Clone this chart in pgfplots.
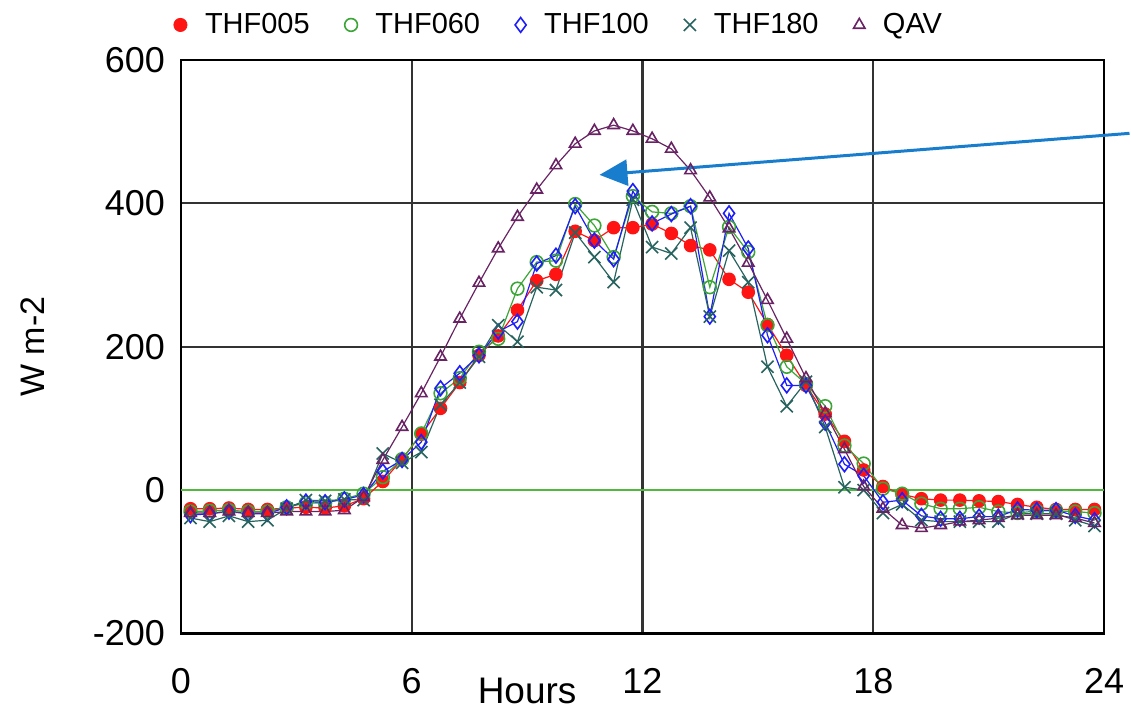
\documentclass[border=0pt]{standalone}
\usepackage{pgfplots}
\pgfplotsset{compat=1.18}
\usepackage{pgfplotstable}
\usepackage{fontspec}
\setmainfont{Liberation Sans}
\usetikzlibrary{arrows.meta}
\definecolor{cR}{RGB}{255,20,20}
\definecolor{cG}{RGB}{60,165,55}
\definecolor{cB}{RGB}{30,30,250}
\definecolor{cT}{RGB}{40,100,95}
\definecolor{cP}{RGB}{105,35,100}
\definecolor{cZ}{RGB}{80,185,60}
\definecolor{cA}{RGB}{25,125,205}
\pgfplotstableread{
h r g b t q
0.25 -26 -30 -35 -39 -32
0.75 -26 -29 -33 -44 -32
1.25 -25 -28 -30 -36 -30
1.75 -27 -30 -33 -44 -32
2.25 -27 -30 -33 -42 -32
2.75 -25 -24 -24 -26 -30
3.25 -24 -18 -16 -14 -30
3.75 -25 -18 -17 -15 -30
4.25 -22 -12 -13 -13 -28
4.75 -12 -5 -7 -14 -10
5.25 12 18 26 51 42
5.75 43 43 42 38 88
6.25 78 79 67 53 135
6.75 114 135 142 119 186
7.25 150 156 163 150 239
7.75 188 193 188 186 289
8.25 215 211 221 230 337
8.75 251 281 235 207 381
9.25 292 318 316 283 419
9.75 301 320 327 279 453
10.25 361 399 396 359 483
10.75 348 369 348 325 501
11.25 366 325 322 290 509
11.75 366 410 417 405 501
12.25 371 388 372 339 490
12.75 358 386 385 330 476
13.25 341 396 396 366 446
13.75 335 283 242 242 408
14.25 294 367 386 334 365
14.75 276 332 337 290 317
15.25 231 230 216 172 265
15.75 188 172 146 117 211
16.25 146 148 146 151 156
16.75 106 117 94 88 107
17.25 68 62 36 4 57
17.75 28 37 20 0 5
18.25 5 2 -17 -32 -26
18.75 -6 -5 -14 -20 -49
19.25 -12 -19 -36 -42 -53
19.75 -14 -26 -40 -44 -49
20.25 -14 -26 -40 -44 -44
20.75 -15 -24 -37 -44 -42
21.25 -16 -30 -37 -44 -39
21.75 -20 -32 -27 -33 -35
22.25 -24 -29 -28 -33 -35
22.75 -27 -29 -28 -33 -35
23.25 -27 -30 -36 -42 -39
23.75 -27 -32 -42 -50 -46
}\datatable
\begin{document}
\begin{tikzpicture}
\begin{axis}[
  scale only axis,
  width=462pt, height=287pt,
  xmin=0, xmax=24, ymin=-200, ymax=600,
  xtick={0,6,12,18,24}, ytick={-200,0,200,400,600},
  major tick length=0pt,
  grid=major,
  major grid style={black!80, line width=1.1pt},
  axis line style={black, line width=1.2pt},
  /pgf/number format/assume math mode=true,
  tick label style={font=\fontsize{18}{21}\selectfont},
  xticklabel style={yshift=-14pt},
  yticklabel style={xshift=-4.5pt},
  xlabel={Hours},
  ylabel={W m-2},
  xlabel style={font=\fontsize{18.5}{22}\selectfont, at={(axis description cs:0.375,0)}, anchor=center, yshift=-29pt},
  ylabel style={font=\fontsize{17}{20}\selectfont, at={(axis description cs:-0.161,0.5)}, anchor=center},
  clip=false,
  legend columns=5,
  legend style={at={(axis description cs:-0.0076,1.061)}, anchor=west, draw=none, fill=none,
    inner sep=0pt, outer sep=0pt,
    font=\fontsize{14.5}{17}\selectfont,
    /tikz/every odd column/.append style={column sep=7pt},
    /tikz/every even column/.append style={column sep=15.5pt}},
]
\path (axis description cs:-0.1959,-0.1324) (axis description cs:1.0281,1.1045);
\addplot[cZ, line width=1.1pt, forget plot] coordinates {(0,0) (24,0)};
\addplot[cR, line width=0.6pt, mark=*, mark size=3.1pt, mark options={fill=cR, draw=cR}, forget plot] table[x=h,y=r]{\datatable};
\addplot[cG, line width=0.6pt, mark=o, mark size=3.2pt, mark options={line width=0.8pt}, forget plot] table[x=h,y=g]{\datatable};
\addplot[cB, line width=0.6pt, mark=diamond, mark size=3.7pt, mark options={line width=0.8pt}, forget plot] table[x=h,y=b]{\datatable};
\addplot[cT, line width=0.6pt, mark=x, mark size=4.3pt, mark options={line width=0.8pt}, forget plot] table[x=h,y=t]{\datatable};
\addplot[cP, line width=0.6pt, mark=triangle, mark size=3.3pt, mark options={line width=0.8pt}, forget plot] table[x=h,y=q]{\datatable};
\addlegendimage{only marks, mark=*, mark size=3.3pt, cR, mark options={fill=cR}}
\addlegendentry{THF005}
\addlegendimage{only marks, mark=o, mark size=3.2pt, cG, mark options={line width=0.8pt}}
\addlegendentry{THF060}
\addlegendimage{only marks, mark=diamond, mark size=3.7pt, cB, mark options={line width=0.8pt}}
\addlegendentry{THF100}
\addlegendimage{only marks, mark=x, mark size=4.3pt, cT, mark options={line width=0.8pt}}
\addlegendentry{THF180}
\addlegendimage{only marks, mark=triangle, mark size=3.3pt, cP, mark options={line width=0.8pt}}
\addlegendentry{QAV}
\draw[cA, line width=1.5pt, -{Triangle[length=14pt,width=13pt]}] (axis cs:24.66,497.6) -- (axis cs:10.883,439.7);
\end{axis}
\end{tikzpicture}
\end{document}
